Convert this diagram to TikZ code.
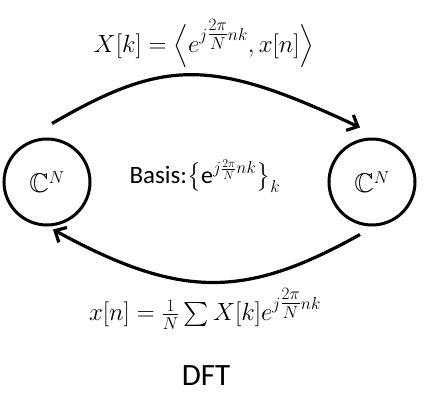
\documentclass[tikz,border=0pt]{standalone}
\usepackage{amsmath,amssymb}
\usepackage{fontspec}
\setmainfont{Carlito}
\usetikzlibrary{arrows.meta}
\tikzset{
  space/.style={draw, circle, line width=3pt, minimum size=86pt, inner sep=0pt, font=\fontsize{27}{30}\selectfont},
  map/.style={line width=3.2pt, -{Straight Barb[length=9pt,width=17pt,line width=3.2pt]}},
  formula/.style={font=\fontsize{24}{28}\selectfont}
}
\begin{document}
\begin{tikzpicture}[x=1pt, y=-1pt]
            \useasboundingbox[fill=white] (0,0) rectangle (424,405);

            \node[space] (lC) at (47,182) {$\mathbb{C}^N$};
            \node[space] (rC) at (372,182) {$\mathbb{C}^N$};

            \node[formula] (fwd) at (204,44) {$X[k] = \Bigl\langle e^{j{\textstyle\frac{2\pi}{N}}nk}, x[n]\Bigr\rangle$};
            \node[formula] (basis) at (205,176) {{\fontsize{25}{29}\selectfont Basis:}$\bigl\{\mbox{e}^{j\frac{2\pi}{N}nk}\bigr\}_k$};
            \node[formula] (inv) at (205,309) {$x[n] = \tfrac{1}{N}\textstyle\sum X[k]e^{j{\textstyle\frac{2\pi}{N}}nk}$};
            \node[font=\fontsize{31}{36}\selectfont] (title) at (206,376) {DFT};

            % analysis and synthesis
            \draw[map] ([shift={(5,-14)}]lC.north) .. controls (165,58) and (212,58) .. ([shift={(-12,-10)}]rC.north);
            \draw[map] ([shift={(-12,8)}]rC.south) .. controls (245,299) and (180,299) .. ([shift={(6,3)}]lC.south);
        \end{tikzpicture}
\end{document}
